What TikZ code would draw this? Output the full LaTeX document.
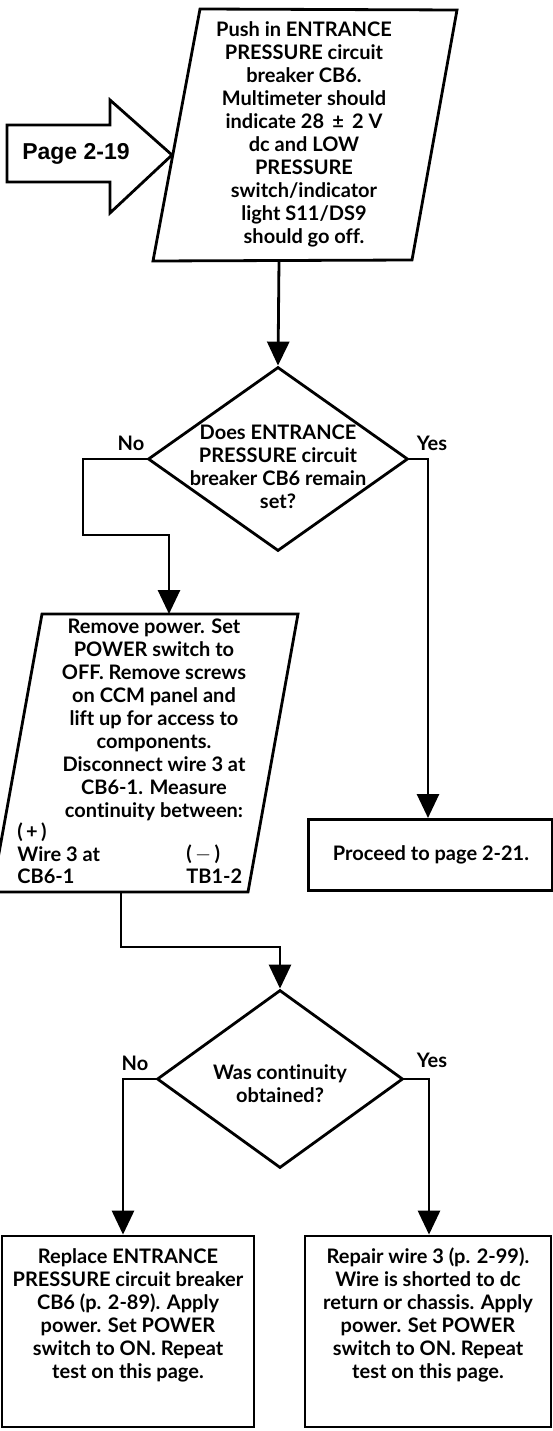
\documentclass[tikz,border=0pt]{standalone}
\usepackage{fontspec}
\usetikzlibrary{arrows.meta,shapes.geometric}
\newfontfamily\latofont{Lato}[Ligatures=NoCommon]
\newfontfamily\helvfont{Liberation Sans}
\newcommand{\chartfont}{\latofont\bfseries\fontsize{20pt}{23pt}\selectfont}
\newcommand{\pagefont}{\helvfont\bfseries\fontsize{23pt}{26pt}\selectfont}

\begin{document}
\begin{tikzpicture}[x=1pt,y=-1pt,line width=2.8pt,>={Triangle[length=24pt,width=22pt]},
  txt/.style={font=\chartfont,align=center,inner sep=0pt},
  lbl/.style={font=\chartfont,inner sep=0pt},
  box/.style={draw,rectangle,inner sep=0pt},
  dia/.style={draw,diamond,inner sep=0pt}]
\useasboundingbox (0,0) rectangle (553,1431);

% entry arrow from page 2-19
\draw (7,125) -- (110,125) -- (110,100) -- (172,155) -- (110,213) -- (110,182) -- (7,182) -- cycle;
\node[font=\pagefont,inner sep=0pt] (pg) at (76,154) {Page 2-19};

% first step
\draw (200,9) -- (457,10) -- (412,260) -- (153,261) -- cycle;
\node[txt] (push) at (304,134) {Push in ENTRANCE\\PRESSURE circuit\\breaker CB6.\\Multimeter should\\indicate 28 \,±\, 2 V\\dc and LOW\\PRESSURE\\switch/indicator\\light S11/DS9\\should go off.};
\coordinate (pushout) at (279,260);

% first question
\node[dia,minimum width=260pt,minimum height=184pt] (q1) at (278,459) {};
\node[txt] (q1txt) at (278,467) {Does ENTRANCE\\PRESSURE circuit\\breaker CB6 remain\\set?};
\node[lbl] (no1) at (131,443) {No};
\node[lbl] (yes1) at (432,443) {Yes};

% measure step
\draw (42,614) -- (298,614) -- (248,892) -- (-8,892) -- cycle;
\node[txt] (meas) at (154,720) {Remove power. Set\\POWER switch to\\OFF. Remove screws\\on CCM panel and\\lift up for access to\\components.\\Disconnect wire 3 at\\CB6-1. Measure\\continuity between:};
\node[lbl,anchor=west] (plus) at (16,832) {(\,+\,)};
\node[lbl,anchor=west] (wire) at (16,854) {Wire 3 at};
\node[lbl,anchor=west] (cbpin) at (16,876) {CB6-1};
\node[lbl,anchor=west] (minus) at (185,854) {(\,$-$\,)};
\node[lbl,anchor=west] (tbpin) at (185,876) {TB1-2};
\coordinate (measin) at (169,614);
\coordinate (measout) at (121,892);

% proceed
\node[box,minimum width=244pt,minimum height=71pt,anchor=north west] (next) at (307,818) {};
\node[txt] (nexttxt) at (431,855) {Proceed to page 2-21.};

% second question
\node[dia,minimum width=246pt,minimum height=178pt] (q2) at (280,1079) {};
\node[txt] (q2txt) at (280,1084) {Was continuity\\obtained?};
\node[lbl] (no2) at (135,1063) {No};
\node[lbl] (yes2) at (432,1060) {Yes};

% repairs
\node[box,minimum width=252pt,minimum height=191pt] (fix1) at (128,1331.5) {};
\node[txt] (fix1txt) at (128,1315) {Replace ENTRANCE\\PRESSURE circuit breaker\\CB6 (p. 2-89). Apply\\power. Set POWER\\switch to ON. Repeat\\test on this page.};
\node[box,minimum width=246pt,minimum height=191pt] (fix2) at (428,1331.5) {};
\node[txt] (fix2txt) at (428,1315) {Repair wire 3 (p. 2-99).\\Wire is shorted to dc\\return or chassis. Apply\\power. Set POWER\\switch to ON. Repeat\\test on this page.};

% connectors
\coordinate (c1) at (83,459);
\coordinate (c2) at (428,459);
\coordinate (c3) at (123,1079);
\coordinate (c4) at (429,1079);
\draw[->] (pushout) -- (q1.north);
\draw[->] (q1.west) -- (c1) -- (83,535) -- (169,535) -- (measin);
\draw[->] (q1.east) -- (c2) -- (c2 |- next.north);
\draw[->] (measout) -- (121,947) -- (280,947) -- (q2.north);
\draw[->] (q2.west) -- (c3) -- (c3 |- fix1.north);
\draw[->] (q2.east) -- (c4) -- (c4 |- fix2.north);
\end{tikzpicture}
\end{document}
